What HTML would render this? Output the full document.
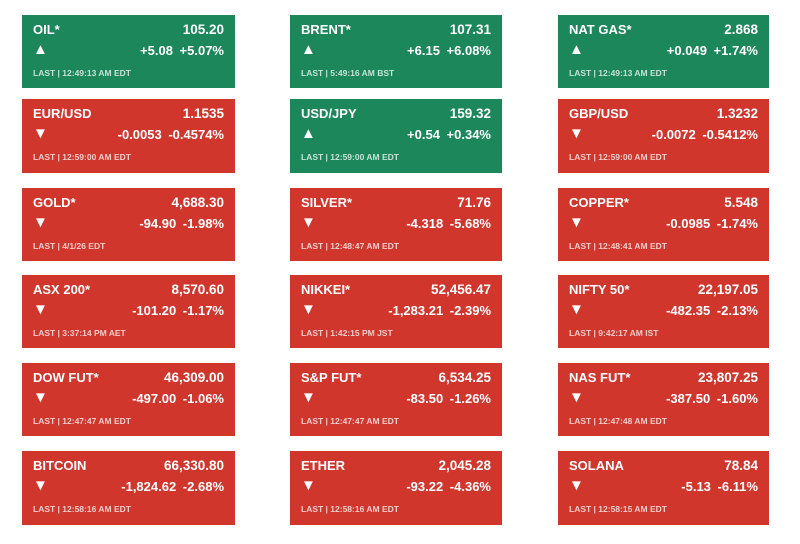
<!DOCTYPE html>
<html><head><style>
body{margin:0;width:800px;height:544px;background:#fff;position:relative;font-family:"Liberation Sans",Arial,sans-serif;overflow:hidden}
.t{position:absolute;color:#fff;box-sizing:border-box}
.g{background:#1b875a}.r{background:#d1362d}
.n{position:absolute;left:11px;top:7px;font-weight:bold;font-size:13px}
.v{position:absolute;right:11px;top:7px;font-size:13.5px;font-weight:bold}
.a{position:absolute;left:11px;top:26px;font-size:15px}
.c{position:absolute;right:11px;top:28px;font-size:13px;font-weight:bold;word-spacing:3px}
.l{position:absolute;left:11px;top:53px;font-size:8.5px;font-weight:bold;opacity:.75}
</style></head><body>
<div id="w"></div>
<script>
var cols=[[22,213],[290,212],[558,211]];
var rows=[[15,73],[99,74],[188,73],[275,73],[363,73],[451,74]];
var d=[
["g","OIL*","105.20","+5.08 +5.07%","LAST | 12:49:13 AM EDT"],
["g","BRENT*","107.31","+6.15 +6.08%","LAST | 5:49:16 AM BST"],
["g","NAT GAS*","2.868","+0.049 +1.74%","LAST | 12:49:13 AM EDT"],
["r","EUR/USD","1.1535","-0.0053 -0.4574%","LAST | 12:59:00 AM EDT"],
["g","USD/JPY","159.32","+0.54 +0.34%","LAST | 12:59:00 AM EDT"],
["r","GBP/USD","1.3232","-0.0072 -0.5412%","LAST | 12:59:00 AM EDT"],
["r","GOLD*","4,688.30","-94.90 -1.98%","LAST | 4/1/26 EDT"],
["r","SILVER*","71.76","-4.318 -5.68%","LAST | 12:48:47 AM EDT"],
["r","COPPER*","5.548","-0.0985 -1.74%","LAST | 12:48:41 AM EDT"],
["r","ASX 200*","8,570.60","-101.20 -1.17%","LAST | 3:37:14 PM AET"],
["r","NIKKEI*","52,456.47","-1,283.21 -2.39%","LAST | 1:42:15 PM JST"],
["r","NIFTY 50*","22,197.05","-482.35 -2.13%","LAST | 9:42:17 AM IST"],
["r","DOW FUT*","46,309.00","-497.00 -1.06%","LAST | 12:47:47 AM EDT"],
["r","S&amp;P FUT*","6,534.25","-83.50 -1.26%","LAST | 12:47:47 AM EDT"],
["r","NAS FUT*","23,807.25","-387.50 -1.60%","LAST | 12:47:48 AM EDT"],
["r","BITCOIN","66,330.80","-1,824.62 -2.68%","LAST | 12:58:16 AM EDT"],
["r","ETHER","2,045.28","-93.22 -4.36%","LAST | 12:58:16 AM EDT"],
["r","SOLANA","78.84","-5.13 -6.11%","LAST | 12:58:15 AM EDT"]];
var h="";
d.forEach(function(x,i){var c=cols[i%3],r=rows[Math.floor(i/3)];
h+='<div class="t '+x[0]+'" style="left:'+c[0]+'px;top:'+r[0]+'px;width:'+c[1]+'px;height:'+r[1]+'px"><div class="n">'+x[1]+'</div><div class="v">'+x[2]+'</div><div class="a">'+(x[0]=="g"?"&#9650;":"&#9660;")+'</div><div class="c">'+x[3]+'</div><div class="l">'+x[4]+'</div></div>';});
document.getElementById("w").innerHTML=h;
</script>
</body></html>
